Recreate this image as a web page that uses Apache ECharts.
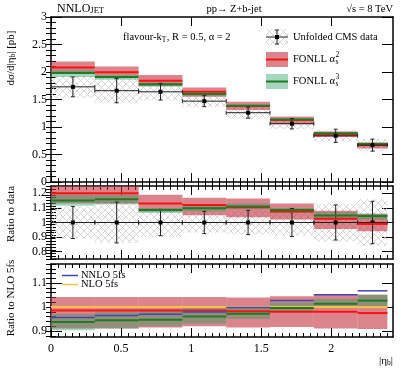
<!DOCTYPE html>
<html>
<head>
<meta charset="utf-8">
<script src="https://cdn.jsdelivr.net/npm/echarts@6/dist/echarts.min.js"></script>
<style>
  html, body { margin: 0; padding: 0; background: #fff; }
  #chart { width: 415px; height: 372px; }
</style>
</head>
<body>
<div id="chart"></div>
<script>
// bin edges in |eta_b|
const binEdges = [0, 0.3125, 0.625, 0.9375, 1.25, 1.5625, 1.875, 2.1875, 2.4]

// top panel: dsigma/d|eta_b| [pb]
const dataVal = [1.73, 1.66, 1.64, 1.47, 1.26, 1.06, 0.84, 0.67]
const dataErr = [0.18, 0.22, 0.15, 0.10, 0.10, 0.095, 0.12, 0.11]
const dataSys = [0.20, 0.23, 0.16, 0.11, 0.11, 0.10, 0.11, 0.11]
const fonll2 = [2.08, 1.995, 1.84, 1.64, 1.38, 1.127, 0.867, 0.673]
const fonll2Lo = [1.97, 1.93, 1.745, 1.55, 1.31, 1.05, 0.82, 0.61]
const fonll2Hi = [2.19, 2.10, 1.945, 1.72, 1.46, 1.19, 0.92, 0.72]
const fonll3 = [1.98, 1.91, 1.776, 1.60, 1.385, 1.135, 0.885, 0.69]
const fonll3Lo = [1.91, 1.86, 1.73, 1.57, 1.36, 1.11, 0.86, 0.67]
const fonll3Hi = [2.04, 1.95, 1.81, 1.63, 1.41, 1.16, 0.905, 0.71]

// middle panel: ratio to data
const rdVal = [1, 1, 1, 1, 1, 1, 1, 1]
const rdErr = [0.11, 0.14, 0.09, 0.076, 0.083, 0.096, 0.12, 0.145]
const rdSys = [0.11, 0.14, 0.10, 0.07, 0.08, 0.09, 0.13, 0.16]
const rdFonll2 = [1.20, 1.20, 1.13, 1.12, 1.104, 1.075, 1.025, 0.99]
const rdFonll2Lo = [1.13, 1.13, 1.075, 1.05, 1.036, 1.02, 0.955, 0.94]
const rdFonll2Hi = [1.27, 1.27, 1.19, 1.17, 1.165, 1.13, 1.08, 1.06]
const rdFonll3 = [1.15, 1.16, 1.086, 1.097, 1.11, 1.085, 1.048, 1.044]
const rdFonll3Lo = [1.115, 1.125, 1.065, 1.075, 1.09, 1.065, 1.025, 1.02]
const rdFonll3Hi = [1.19, 1.19, 1.10, 1.115, 1.13, 1.10, 1.07, 1.06]

// bottom panel: ratio to NLO 5fs
const rnNlo = [1, 1, 1, 1, 1, 1, 1, 1]
const rnNnlo = [0.956, 0.965, 0.97, 0.979, 0.998, 1.027, 1.052, 1.068]
const rnFonll2 = [0.986, 0.986, 0.986, 0.986, 0.983, 0.98, 0.98, 0.975]
const rnFonll2Lo = [0.91, 0.91, 0.915, 0.92, 0.915, 0.917, 0.91, 0.908]
const rnFonll2Hi = [1.042, 1.042, 1.042, 1.042, 1.04, 1.045, 1.055, 1.052]
const rnFonll3 = [0.938, 0.945, 0.947, 0.961, 0.972, 0.996, 1.014, 1.027]
const rnFonll3Lo = [0.903, 0.91, 0.92, 0.93, 0.95, 0.98, 0.995, 1.0]
const rnFonll3Hi = [0.972, 0.98, 0.99, 0.995, 1.0, 1.02, 1.035, 1.052]

// tick values
const xMajor = [0, 0.5, 1, 1.5, 2]
const xMinor = [...Array(49).keys()].map(i => +(i * 0.05).toFixed(2)).filter(v => v % 0.5 !== 0)
const topMajor = [0, 0.5, 1, 1.5, 2, 2.5, 3]
const topMinor = [...Array(31).keys()].map(i => +(i * 0.1).toFixed(1))
const midMajor = [0.8, 0.9, 1, 1.1, 1.2]
const midMinor = [...Array(26).keys()].map(i => +(0.75 + i * 0.02).toFixed(2)).filter(v => v <= 1.25)
const botMajor = [0.9, 1, 1.1]
const botMinor = [...Array(16).keys()].map(i => +(0.88 + i * 0.02).toFixed(2)).filter(v => v <= 1.18)

const SERIF = '"Liberation Serif", "DejaVu Serif", serif'
const RED = '#ff1010'
const RED_BAND = 'rgba(193,43,55,0.58)'
const GREEN = '#1f7a25'
const GREEN_BAND = 'rgba(44,160,100,0.42)'
const BLUE = '#4444b8'
const ORANGE = '#f4c247'

// crosshatch for the data uncertainty
const pat = document.createElement('canvas')
pat.width = 7; pat.height = 7
{
  const c = pat.getContext('2d')
  c.strokeStyle = '#c4c4c4'
  c.lineWidth = 0.7
  c.beginPath()
  c.moveTo(0, 0); c.lineTo(7, 7)
  c.moveTo(7, 0); c.lineTo(0, 7)
  c.stroke()
}
const HATCH = { image: pat, repeat: 'repeat' }

const grids = [
  { left: 51, top: 17, width: 342, height: 165 },
  { left: 51, top: 186, width: 342, height: 73 },
  { left: 51, top: 264, width: 342, height: 73 }
]

const blk = { color: '#000', width: 1 }

function xAxesFor(gi, showLabels) {
  const base = { type: 'value', gridIndex: gi, min: 0, max: 2.44, splitLine: { show: false } }
  const line = { show: true, onZero: false, lineStyle: { color: '#000', width: 1.5 } }
  const lab = {
    show: showLabels, customValues: xMajor, margin: 6,
    color: '#000', fontFamily: SERIF, fontSize: 12
  }
  return [
    { ...base, position: 'bottom', axisLine: line, axisTick: { inside: true, length: 9, customValues: xMajor, lineStyle: blk }, axisLabel: lab },
    { ...base, position: 'top', axisLine: line, axisTick: { inside: true, length: 9, customValues: xMajor, lineStyle: blk }, axisLabel: { show: false } },
    { ...base, position: 'bottom', axisLine: { show: false }, axisTick: { inside: true, length: 4, customValues: xMinor, lineStyle: blk }, axisLabel: { show: false } },
    { ...base, position: 'top', axisLine: { show: false }, axisTick: { inside: true, length: 4, customValues: xMinor, lineStyle: blk }, axisLabel: { show: false } }
  ]
}

function yAxesFor(gi, min, max, major, minor) {
  const base = { type: 'value', gridIndex: gi, min, max, splitLine: { show: false } }
  const line = { show: true, onZero: false, lineStyle: { color: '#000', width: 1.5 } }
  return [
    { ...base, position: 'left', axisLine: line,
      axisTick: { inside: true, length: 11, customValues: major, lineStyle: blk },
      axisLabel: { customValues: major, margin: 4, color: '#000', fontFamily: SERIF, fontSize: 12 } },
    { ...base, position: 'right', axisLine: line,
      axisTick: { inside: true, length: 11, customValues: major, lineStyle: blk }, axisLabel: { show: false } },
    { ...base, position: 'left', axisLine: { show: false },
      axisTick: { inside: true, length: 5, customValues: minor, lineStyle: blk }, axisLabel: { show: false } },
    { ...base, position: 'right', axisLine: { show: false },
      axisTick: { inside: true, length: 5, customValues: minor, lineStyle: blk }, axisLabel: { show: false } }
  ]
}

function rows(a, b) {
  return a.map((v, i) => [binEdges[i], binEdges[i + 1], v, b ? b[i] : 0])
}

function bandSeries(gi, lo, hi, fill, z) {
  return {
    type: 'custom', xAxisIndex: gi * 4, yAxisIndex: gi * 4, z, clip: true, silent: true,
    data: rows(lo, hi),
    renderItem: (params, api) => {
      const p1 = api.coord([api.value(0), api.value(3)])
      const p2 = api.coord([api.value(1), api.value(2)])
      return { type: 'rect', shape: { x: p1[0], y: p1[1], width: p2[0] - p1[0], height: p2[1] - p1[1] }, style: { fill } }
    }
  }
}

function stepSeries(gi, vals, color, width, z) {
  return {
    type: 'custom', xAxisIndex: gi * 4, yAxisIndex: gi * 4, z, clip: true, silent: true,
    data: rows(vals),
    renderItem: (params, api) => {
      const p1 = api.coord([api.value(0), api.value(2)])
      const p2 = api.coord([api.value(1), api.value(2)])
      return { type: 'line', shape: { x1: p1[0], y1: p1[1], x2: p2[0], y2: p2[1] }, style: { stroke: color, lineWidth: width } }
    }
  }
}

function dataSeries(gi, vals, errs, z) {
  return {
    type: 'custom', xAxisIndex: gi * 4, yAxisIndex: gi * 4, z, clip: true, silent: true,
    data: rows(vals, errs),
    renderItem: (params, api) => {
      const lo = api.value(0), hi = api.value(1), v = api.value(2), e = api.value(3)
      const mid = (lo + hi) / 2
      const a = api.coord([lo, v]), b = api.coord([hi, v])
      const c = api.coord([mid, v]), t = api.coord([mid, v + e]), d = api.coord([mid, v - e])
      const st = { stroke: '#222', lineWidth: 1 }
      return {
        type: 'group',
        children: [
          { type: 'line', shape: { x1: a[0], y1: a[1], x2: b[0], y2: b[1] }, style: st },
          { type: 'line', shape: { x1: a[0], y1: a[1] - 2, x2: a[0], y2: a[1] + 2 }, style: st },
          { type: 'line', shape: { x1: b[0], y1: b[1] - 2, x2: b[0], y2: b[1] + 2 }, style: st },
          { type: 'line', shape: { x1: t[0], y1: t[1], x2: d[0], y2: d[1] }, style: st },
          { type: 'line', shape: { x1: t[0] - 2, y1: t[1], x2: t[0] + 2, y2: t[1] }, style: st },
          { type: 'line', shape: { x1: d[0] - 2, y1: d[1], x2: d[0] + 2, y2: d[1] }, style: st },
          { type: 'rect', shape: { x: c[0] - 2, y: c[1] - 2, width: 4, height: 4 }, style: { fill: '#000' } }
        ]
      }
    }
  }
}

function hatchSeries(gi, vals, sys, z) {
  const lo = vals.map((v, i) => v - sys[i])
  const hi = vals.map((v, i) => v + sys[i])
  return bandSeries(gi, lo, hi, HATCH, z)
}

// text helpers
const mctx = document.createElement('canvas').getContext('2d')
function textW(s, size) {
  mctx.font = size + 'px ' + SERIF
  return mctx.measureText(s).width
}
function txt(x, y, text, size, extra) {
  return { type: 'text', x, y, silent: true, style: Object.assign({ text, font: size + 'px ' + SERIF, fill: '#000', align: 'left', verticalAlign: 'middle' }, extra || {}) }
}
function fonllLabel(x, y, sup) {
  const w = textW('FONLL α', 10.5)
  return [
    txt(x, y, 'FONLL α', 10.5),
    txt(x + w + 0.5, y - 4, sup, 7.5),
    txt(x + w + 0.5, y + 3.5, 's', 7.5)
  ]
}

const subRich = { s: { font: '7.5px ' + SERIF, verticalAlign: 'bottom', padding: [5, 0, 0, 0] } }

const graphics = [
  // header
  { type: 'text', x: 57, y: 9, silent: true, style: { text: '{a|NNLO}{b|JET}', fill: '#000', verticalAlign: 'middle',
    rich: { a: { font: '12px ' + SERIF, verticalAlign: 'bottom' }, b: { font: '8.5px ' + SERIF, verticalAlign: 'bottom' } } } },
  txt(234, 9, 'pp\u2192 Z+b-jet', 10.5, { align: 'center' }),
  txt(393, 9, '\u221As = 8 TeV', 10.5, { align: 'right' }),
  // flavour kT text
  txt(123, 37, 'flavour-k', 10.5),
  txt(123 + textW('flavour-k', 10.5), 40.5, 'T', 7.5),
  txt(123 + textW('flavour-k', 10.5) + 5, 37, ', R = 0.5, \u03b1 = 2', 10.5),
  // legend, top panel
  { type: 'rect', shape: { x: 266, y: 29, width: 22, height: 16 }, style: { fill: HATCH }, silent: true },
  { type: 'line', shape: { x1: 266, y1: 37, x2: 288, y2: 37 }, style: { stroke: '#222', lineWidth: 1 }, silent: true },
  { type: 'line', shape: { x1: 277, y1: 30, x2: 277, y2: 44 }, style: { stroke: '#222', lineWidth: 1 }, silent: true },
  { type: 'line', shape: { x1: 275, y1: 30, x2: 279, y2: 30 }, style: { stroke: '#222', lineWidth: 1 }, silent: true },
  { type: 'line', shape: { x1: 275, y1: 44, x2: 279, y2: 44 }, style: { stroke: '#222', lineWidth: 1 }, silent: true },
  { type: 'rect', shape: { x: 275, y: 35, width: 4, height: 4 }, style: { fill: '#000' }, silent: true },
  txt(293, 37, 'Unfolded CMS data', 10.5),
  { type: 'rect', shape: { x: 266, y: 52, width: 22, height: 15 }, style: { fill: RED_BAND }, silent: true },
  { type: 'line', shape: { x1: 266, y1: 59.5, x2: 288, y2: 59.5 }, style: { stroke: RED, lineWidth: 2 }, silent: true },
  ...fonllLabel(293, 59, '2'),
  { type: 'rect', shape: { x: 266, y: 74, width: 22, height: 15 }, style: { fill: GREEN_BAND }, silent: true },
  { type: 'line', shape: { x1: 266, y1: 81.5, x2: 288, y2: 81.5 }, style: { stroke: GREEN, lineWidth: 2 }, silent: true },
  ...fonllLabel(293, 81, '3'),
  // legend, bottom panel
  { type: 'line', shape: { x1: 62, y1: 275.5, x2: 78, y2: 275.5 }, style: { stroke: BLUE, lineWidth: 1.5 }, silent: true },
  txt(81, 275.5, 'NNLO 5fs', 10.5),
  { type: 'line', shape: { x1: 62, y1: 284.5, x2: 78, y2: 284.5 }, style: { stroke: ORANGE, lineWidth: 1.5 }, silent: true },
  txt(81, 284.5, 'NLO 5fs', 10.5),
  // axis titles
  { type: 'text', x: 11, y: 58, rotation: Math.PI / 2, silent: true,
    style: { text: 'd\u03c3/d|\u03b7{s|b}| [pb]', font: '11px ' + SERIF, fill: '#000', align: 'center', verticalAlign: 'middle', rich: subRich } },
  { ...txt(11, 214, 'Ratio to data', 11, { align: 'center' }), rotation: Math.PI / 2 },
  { ...txt(11, 298, 'Ratio to NLO 5fs', 11, { align: 'center' }), rotation: Math.PI / 2 },
  { type: 'text', x: 393, y: 361, silent: true,
    style: { text: '|\u03b7{s|b}|', font: '11px ' + SERIF, fill: '#000', align: 'right', verticalAlign: 'middle', rich: subRich } }
]

const chart = echarts.init(document.getElementById('chart'), null, { renderer: 'canvas' })
chart.setOption({
  animation: false,
  backgroundColor: '#fff',
  grid: grids.map(g => ({ ...g, outerBoundsMode: 'none' })),
  xAxis: [...xAxesFor(0, false), ...xAxesFor(1, false), ...xAxesFor(2, true)],
  yAxis: [
    ...yAxesFor(0, 0, 3, topMajor, topMinor),
    ...yAxesFor(1, 0.75, 1.25, midMajor, midMinor),
    ...yAxesFor(2, 0.875, 1.18, botMajor, botMinor)
  ],
  series: [
    // top
    hatchSeries(0, dataVal, dataSys, 1),
    bandSeries(0, fonll2Lo, fonll2Hi, RED_BAND, 2),
    bandSeries(0, fonll3Lo, fonll3Hi, GREEN_BAND, 3),
    stepSeries(0, fonll2, RED, 2, 5),
    stepSeries(0, fonll3, GREEN, 2, 6),
    dataSeries(0, dataVal, dataErr, 7),
    // middle
    hatchSeries(1, rdVal, rdSys, 1),
    bandSeries(1, rdFonll2Lo, rdFonll2Hi, RED_BAND, 2),
    bandSeries(1, rdFonll3Lo, rdFonll3Hi, GREEN_BAND, 3),
    dataSeries(1, rdVal, rdErr, 4),
    stepSeries(1, rdFonll2, RED, 2, 5),
    stepSeries(1, rdFonll3, GREEN, 2, 6),
    // bottom
    bandSeries(2, rnFonll2Lo, rnFonll2Hi, RED_BAND, 2),
    bandSeries(2, rnFonll3Lo, rnFonll3Hi, GREEN_BAND, 3),
    stepSeries(2, rnNlo, ORANGE, 2, 4),
    stepSeries(2, rnFonll2, RED, 2, 5),
    stepSeries(2, rnFonll3, GREEN, 2, 6),
    stepSeries(2, rnNnlo, BLUE, 1.5, 7)
  ],
  graphic: graphics
})
</script>
</body>
</html>
